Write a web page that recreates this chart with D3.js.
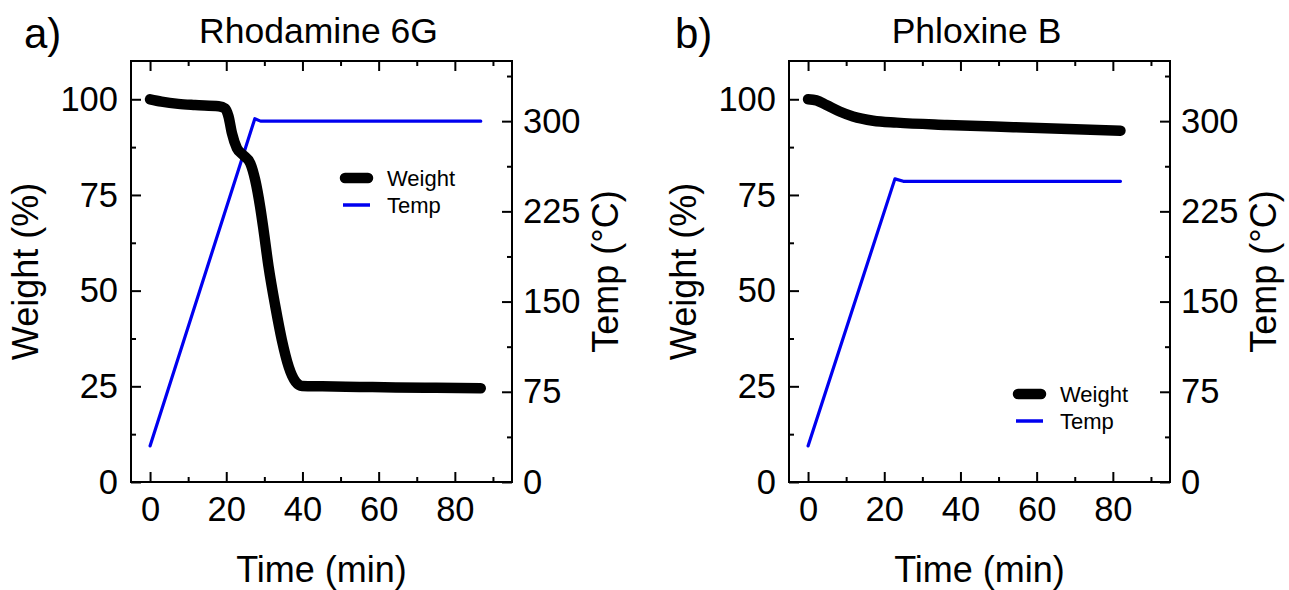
<!DOCTYPE html>
<html>
<head>
<meta charset="utf-8">
<script src="https://cdn.jsdelivr.net/npm/d3@7"></script>
<style>
  body { margin: 0; background: #fff; }
  svg text { font-family: "Liberation Sans", Arial, sans-serif; fill: #000; }
</style>
</head>
<body>
<svg id="chart" width="1289" height="590"></svg>
<script>
// Rhodamine 6G
const timeWeightA = [0, 3, 7.4, 11.8, 18, 19.7, 20.6, 21.5, 22.8, 24.5, 26.3, 27.6, 28.9, 29.8, 31.1, 32.9, 34.6, 36.4, 38.2, 39.9, 45.2, 55, 64.5, 75, 86.8];
const weightA = [100, 99.4, 98.8, 98.5, 98.2, 97.6, 95.5, 91.1, 87.2, 85.4, 83.3, 78.9, 71.9, 65.8, 56.3, 45.8, 37.1, 30.1, 26.2, 25.1, 25.0, 24.85, 24.7, 24.6, 24.5];
const timeTempA = [0, 27.5, 29, 86.8];
const tempA = [30, 302, 300, 300];

// Phloxine B
const timeWeightB = [0, 2.2, 4.8, 8.3, 11.8, 17.1, 23.3, 36.4, 53.9, 82];
const weightB = [100, 99.7, 98.5, 96.8, 95.5, 94.4, 93.9, 93.3, 92.7, 91.8];
const timeTempB = [0, 22.8, 25, 82];
const tempB = [30, 252, 250, 250];

// ticks
const xMajor = [0, 20, 40, 60, 80];
const xMinor = [10, 30, 50, 70, 90];
const yMajor = [0, 25, 50, 75, 100];
const yMinor = [12.5, 37.5, 62.5, 87.5];
const tMajor = [0, 75, 150, 225, 300];
const tMinor = [37.5, 112.5, 187.5, 262.5, 337.5];

const panels = [
  { letter: 'a)', title: 'Rhodamine 6G', left: 131, letterX: 24,
    tw: timeWeightA, w: weightA, tt: timeTempA, t: tempA,
    legendX: 340, legendY: 178 },
  { letter: 'b)', title: 'Phloxine B', left: 789, letterX: 675,
    tw: timeWeightB, w: weightB, tt: timeTempB, t: tempB,
    legendX: 1013, legendY: 394 }
];

const svg = d3.select('#chart');
const plotTop = 61, plotBottom = 482, plotWidth = 381;
const blue = '#0000f0';

panels.forEach(p => {
  const right = p.left + plotWidth;
  const x = d3.scaleLinear().domain([-5, 95]).range([p.left, right]);
  const y = d3.scaleLinear().domain([0, 110]).range([plotBottom, plotTop]);
  const yT = d3.scaleLinear().domain([0, 350]).range([plotBottom, plotTop]);
  const g = svg.append('g');

  // axes, ticks pointing inward
  const styleAxis = sel => {
    sel.select('.domain').remove();
    sel.selectAll('line').attr('stroke', '#000').attr('stroke-width', 2);
    sel.selectAll('text').style('font-size', '34.5px');
  };

  g.append('g').attr('transform', `translate(0,${plotBottom})`)
    .call(d3.axisBottom(x).tickValues(xMajor).tickSize(-10).tickPadding(15).tickFormat(d3.format('d')))
    .call(styleAxis);
  g.append('g').attr('transform', `translate(0,${plotBottom})`)
    .call(d3.axisBottom(x).tickValues(xMinor).tickSize(-5).tickFormat(''))
    .call(styleAxis);
  g.append('g').attr('transform', `translate(0,${plotTop})`)
    .call(d3.axisTop(x).tickValues(xMajor).tickSize(-10).tickFormat(''))
    .call(styleAxis);
  g.append('g').attr('transform', `translate(0,${plotTop})`)
    .call(d3.axisTop(x).tickValues(xMinor).tickSize(-5).tickFormat(''))
    .call(styleAxis);

  g.append('g').attr('transform', `translate(${p.left},0)`)
    .call(d3.axisLeft(y).tickValues(yMajor).tickSize(-10).tickPadding(13).tickFormat(d3.format('d')))
    .call(styleAxis);
  g.append('g').attr('transform', `translate(${p.left},0)`)
    .call(d3.axisLeft(y).tickValues(yMinor).tickSize(-5).tickFormat(''))
    .call(styleAxis);

  g.append('g').attr('transform', `translate(${right},0)`)
    .call(d3.axisRight(yT).tickValues(tMajor).tickSize(-10).tickPadding(11).tickFormat(d3.format('d')))
    .call(styleAxis);
  g.append('g').attr('transform', `translate(${right},0)`)
    .call(d3.axisRight(yT).tickValues(tMinor).tickSize(-5).tickFormat(''))
    .call(styleAxis);

  // frame
  g.append('rect')
    .attr('x', p.left).attr('y', plotTop)
    .attr('width', plotWidth).attr('height', plotBottom - plotTop)
    .attr('fill', 'none').attr('stroke', '#000').attr('stroke-width', 2);

  // temperature line
  const tempData = p.tt.map((d, i) => [d, p.t[i]]);
  g.append('path').datum(tempData)
    .attr('fill', 'none').attr('stroke', blue).attr('stroke-width', 3.2)
    .attr('stroke-linejoin', 'round').attr('stroke-linecap', 'round')
    .attr('d', d3.line().x(d => x(d[0])).y(d => yT(d[1])));

  // weight line
  const weightData = p.tw.map((d, i) => [d, p.w[i]]);
  g.append('path').datum(weightData)
    .attr('fill', 'none').attr('stroke', '#000').attr('stroke-width', 10.5)
    .attr('stroke-linejoin', 'round').attr('stroke-linecap', 'round')
    .attr('d', d3.line().curve(d3.curveMonotoneX).x(d => x(d[0])).y(d => y(d[1])));

  // legend
  const lx = p.legendX, ly = p.legendY;
  g.append('line').attr('x1', lx + 5).attr('x2', lx + 28).attr('y1', ly).attr('y2', ly)
    .attr('stroke', '#000').attr('stroke-width', 10.5).attr('stroke-linecap', 'round');
  g.append('text').attr('x', lx + 47).attr('y', ly + 8).style('font-size', '22px').text('Weight');
  g.append('line').attr('x1', lx + 3).attr('x2', lx + 30).attr('y1', ly + 27).attr('y2', ly + 27)
    .attr('stroke', blue).attr('stroke-width', 3.5);
  g.append('text').attr('x', lx + 47).attr('y', ly + 35).style('font-size', '22px').text('Temp');

  // titles and labels
  g.append('text').attr('x', p.letterX).attr('y', 48).style('font-size', '42px').text(p.letter);
  g.append('text').attr('x', (p.left + right) / 2 - 3).attr('y', 43)
    .attr('text-anchor', 'middle').style('font-size', '35.5px').text(p.title);
  g.append('text').attr('x', (p.left + right) / 2).attr('y', 582)
    .attr('text-anchor', 'middle').style('font-size', '36px').text('Time (min)');
  g.append('text').attr('transform', `translate(${p.left - 93},${(plotTop + plotBottom) / 2}) rotate(-90)`)
    .attr('text-anchor', 'middle').style('font-size', '36px').text('Weight (%)');
  g.append('text').attr('transform', `translate(${right + 106},${(plotTop + plotBottom) / 2}) rotate(-90)`)
    .attr('text-anchor', 'middle').style('font-size', '36px').text('Temp (°C)');
});
</script>
</body>
</html>
